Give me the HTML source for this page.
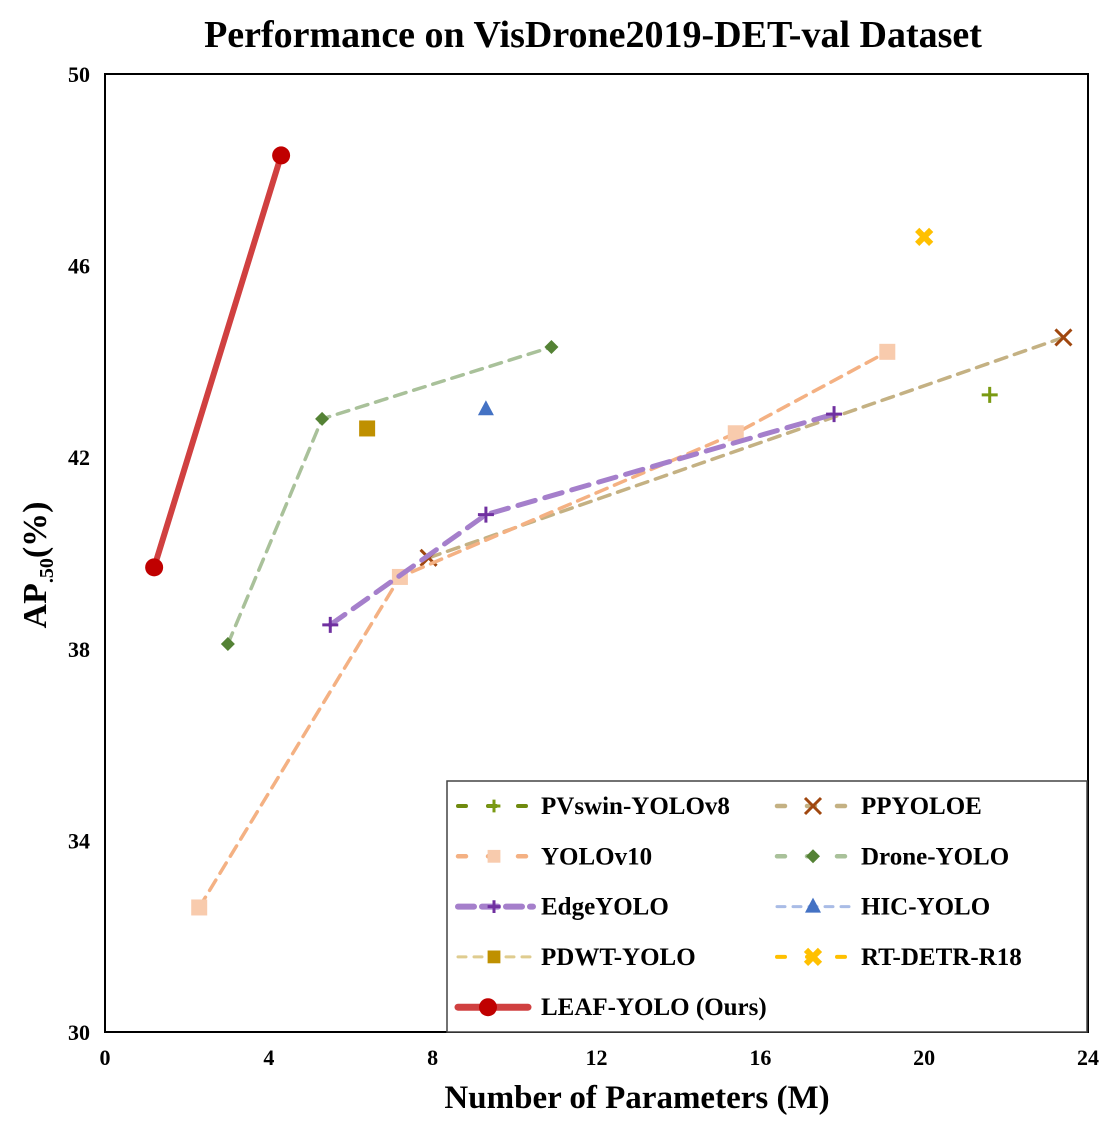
<!DOCTYPE html>
<html><head><meta charset="utf-8"><style>
body{margin:0;background:#fff}
svg text{font-family:"Liberation Serif",serif;font-weight:bold}
</style></head><body>
<svg id="c" width="1120" height="1120" viewBox="0 0 1120 1120">
<text x="593" y="47" font-size="38" text-anchor="middle">Performance on VisDrone2019-DET-val Dataset</text>
<rect x="105" y="74" width="983" height="958" fill="none" stroke="#000" stroke-width="2"/>
<g id="ticks"></g>
<g id="series"></g>
<text x="637" y="1108" font-size="33" text-anchor="middle">Number of Parameters (M)</text>
<text transform="translate(46,565) rotate(-90)" font-size="34" text-anchor="middle">AP<tspan font-size="20" dy="7">.50</tspan><tspan dy="-7">(%)</tspan></text>
<g id="legend"><rect x="447" y="781" width="640" height="251" fill="#fff" stroke="#444" stroke-width="1.5"/></g>
</svg>
<script>
const xTicks=[0,4,8,12,16,20,24];
const yTicks=[30,34,38,42,46,50];
const seriesNames=["PVswin-YOLOv8","PPYOLOE","YOLOv10","Drone-YOLO","EdgeYOLO","HIC-YOLO","PDWT-YOLO","RT-DETR-R18","LEAF-YOLO (Ours)"];
const pvswinX=[21.6], pvswinY=[43.3];
const ppyoloeX=[7.9,23.4], ppyoloeY=[39.9,44.5];
const yolov10X=[2.3,7.2,15.4,19.1], yolov10Y=[32.6,39.5,42.5,44.2];
const droneX=[3.0,5.3,10.9], droneY=[38.1,42.8,44.3];
const edgeX=[5.5,9.3,17.8], edgeY=[38.5,40.8,42.9];
const hicX=[9.3], hicY=[43.0];
const pdwtX=[6.4], pdwtY=[42.6];
const rtdetrX=[20.0], rtdetrY=[46.6];
const leafX=[1.2,4.3], leafY=[39.7,48.3];

const NS="http://www.w3.org/2000/svg";
const sx=v=>105+v*(983/24), sy=v=>1032-(v-30)*(958/20);
function mk(tag,attrs,parent){const e=document.createElementNS(NS,tag);for(const k in attrs)e.setAttribute(k,attrs[k]);parent.appendChild(e);return e;}
const T=document.getElementById('ticks'),S=document.getElementById('series'),L=document.getElementById('legend');
xTicks.forEach(v=>{const t=mk('text',{x:sx(v),y:1065,'font-size':22,'text-anchor':'middle'},T);t.textContent=v;

});
yTicks.forEach(v=>{const t=mk('text',{x:90,y:sy(v)+8,'font-size':22,'text-anchor':'end'},T);t.textContent=v;

});
function marker(type,x,y,col,g,s){
 s=s||1;let e;
 if(type==='plus'){e=mk('path',{d:`M${x-8*s} ${y}H${x+8*s}M${x} ${y-8*s}V${y+8*s}`,stroke:col,'stroke-width':3,fill:'none'},g);}
 else if(type==='x'){e=mk('path',{d:`M${x-8} ${y-8}L${x+8} ${y+8}M${x+8} ${y-8}L${x-8} ${y+8}`,stroke:col,'stroke-width':3,fill:'none'},g);}
 else if(type==='X'){e=mk('path',{d:`M${x-7} ${y-7}L${x+7} ${y+7}M${x+7} ${y-7}L${x-7} ${y+7}`,stroke:col,'stroke-width':6,fill:'none'},g);}
 else if(type==='sq'){e=mk('rect',{x:x-8*s,y:y-8*s,width:16*s,height:16*s,fill:col},g);}
 else if(type==='dia'){e=mk('path',{d:`M${x} ${y-7}L${x+7} ${y}L${x} ${y+7}L${x-7} ${y}Z`,fill:col},g);}
 else if(type==='tri'){e=mk('path',{d:`M${x} ${y-9}L${x+8} ${y+6}L${x-8} ${y+6}Z`,fill:col},g);}
 else if(type==='circ'){e=mk('circle',{cx:x,cy:y,r:9,fill:col},g);}
 return e;}
const defs=[
 {n:"pvswin",xs:pvswinX,ys:pvswinY,lc:"#6f8a0f",mc:"#7a9a12",m:"plus",w:3,d:"10 10"},
 {n:"ppyoloe",xs:ppyoloeX,ys:ppyoloeY,lc:"#c4b183",mc:"#a0470f",m:"x",w:3.5,d:"12 8"},
 {n:"yolov10",xs:yolov10X,ys:yolov10Y,lc:"#f4b183",mc:"#f8cbad",m:"sq",w:3.5,d:"12 8"},
 {n:"drone-yolo",xs:droneX,ys:droneY,lc:"#a9c19a",mc:"#548235",m:"dia",w:3.5,d:"12 8"},
 {n:"edgeyolo",xs:edgeX,ys:edgeY,lc:"#a57fcb",mc:"#7030a0",m:"plus",w:5,d:"18 10"},
 {n:"hic-yolo",xs:hicX,ys:hicY,lc:"#a9bce6",mc:"#4472c4",m:"tri",w:2,d:"8 6"},
 {n:"pdwt-yolo",xs:pdwtX,ys:pdwtY,lc:"#dfcc8f",mc:"#bf9000",m:"sq",w:2,d:"8 6"},
 {n:"rt-detr-r18",xs:rtdetrX,ys:rtdetrY,lc:"#ffc000",mc:"#ffc000",m:"X",w:3,d:"10 10"},
 {n:"leaf-yolo",xs:leafX,ys:leafY,lc:"#d04040",mc:"#c00000",m:"circ",w:6,d:""}
];
defs.forEach(s=>{
 const g=mk('g',{},S);
 
 
 if(s.xs.length>1){const p=mk('polyline',{points:s.xs.map((x,i)=>sx(x)+','+sy(s.ys[i])).join(' '),fill:'none',stroke:s.lc,'stroke-width':s.w,'stroke-dasharray':s.d,'stroke-linecap':'round'},g);
  
  }
 s.xs.forEach((x,i)=>{const e=marker(s.m,sx(x),sy(s.ys[i]),s.mc,g,1);
  
  });
});
const order=[0,1,2,3,4,5,6,7,8];
order.forEach((k,i)=>{
 const s=defs[k];const col=i%2,row=Math.floor(i/2);
 const x0=col?777:458,y=806+row*50.3;
 const g=mk('g',{},L);
 
 
 mk('line',{x1:x0,y1:y,x2:x0+(k===8?70:75),y2:y,stroke:s.lc,'stroke-width':s.w+1,'stroke-dasharray':s.d?(k===4?"16 8":k>=5&&k<=6?"8 8":"8 22"):"",'stroke-linecap':'round'},g);
 marker(s.m,x0+(k===8?30:36),y,s.mc,g,0.8);
 const t=mk('text',{x:col?861:541,y:y+8,'font-size':25},g);t.textContent=seriesNames[k];
});
</script>
</body></html>
